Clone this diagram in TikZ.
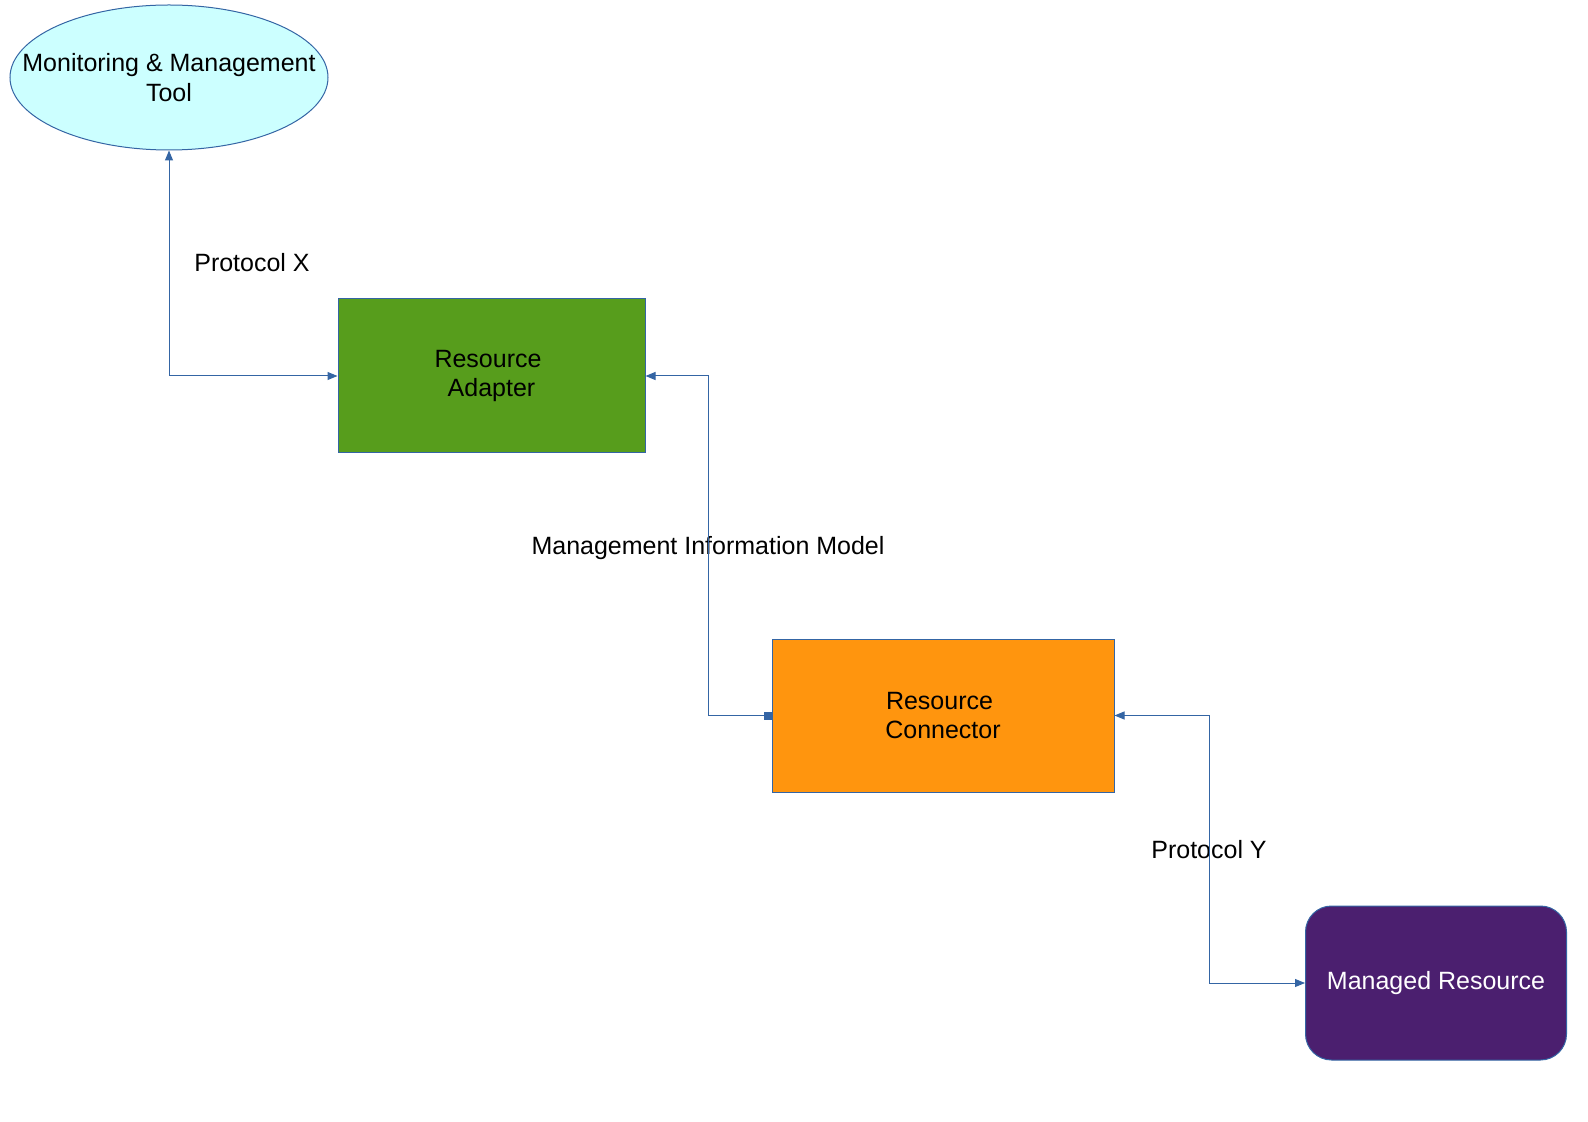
\documentclass[tikz,border=0pt]{standalone}
\usepackage{fontspec}
\setmainfont{Liberation Sans}
\usepackage{tikz}
\usetikzlibrary{shapes.geometric}
\usetikzlibrary{positioning, calc, arrows.meta}

\definecolor{linkblue}{HTML}{3465A4}
\definecolor{toolcyan}{HTML}{CCFFFF}
\definecolor{adaptgreen}{HTML}{579D1C}
\definecolor{connorange}{HTML}{FF950E}
\definecolor{respurple}{HTML}{4B1F6F}

\tikzset{
    box/.style={draw=linkblue, line width=0.5pt, align=center, inner sep=0pt},
    link/.style={draw=linkblue, line width=0.5pt},
    flowtip/.tip={Triangle[length=5pt, width=4pt]},
    sqtip/.tip={Square[length=4pt, width=4pt]},
    lbl/.style={inner sep=0pt, align=center}
}

\begin{document}
\begin{tikzpicture}[x=0.5pt, y=-0.5pt,
    every node/.style={font=\fontsize{12.5}{14.7}\selectfont}]

    % --- CANVAS ---
    \useasboundingbox (0,0) rectangle (1588,1122);

    % --- MANAGEMENT SIDE ---
    % Tool at the top left
    \node[box, ellipse, inner xsep=-20pt, fill=toolcyan,
          minimum width=159pt, minimum height=72.5pt]
        (tool) at (169,77.5) {Monitoring \& Management\\Tool};

    % Adapter block
    \node[box, rectangle, fill=adaptgreen, minimum width=153.5pt, minimum height=77pt]
        (adapter) at (491.5,376) {Resource\kern3.5pt\\Adapter};

    % --- RESOURCE SIDE ---
    % Connector block
    \node[box, rectangle, fill=connorange, minimum width=171pt, minimum height=76.5pt]
        (connector) at (943,715.5) {Resource\kern3.5pt\\Connector};

    % Managed resource, rounded
    \node[box, rectangle, rounded corners=13pt, fill=respurple, text=white,
          minimum width=130.5pt, minimum height=77pt]
        (resource) at (1436,983) {Managed Resource};

    % --- LABELS ---
    \node[lbl] (protox) at (252,263) {Protocol X};
    \node[lbl] (infomodel) at (708,548) {Management Information Model};
    \node[lbl] (protoy) at (1209,850) {Protocol Y};

    % --- CONNECTIONS ---
    \draw[link, flowtip-flowtip] (adapter.west) -| (tool.south);
    \draw[link, sqtip-flowtip]
        (connector.west) -| (infomodel.center) |- (adapter.east);
    \draw[link, flowtip-flowtip] (connector.east) -| (protoy.center) |- (resource.west);

\end{tikzpicture}
\end{document}
